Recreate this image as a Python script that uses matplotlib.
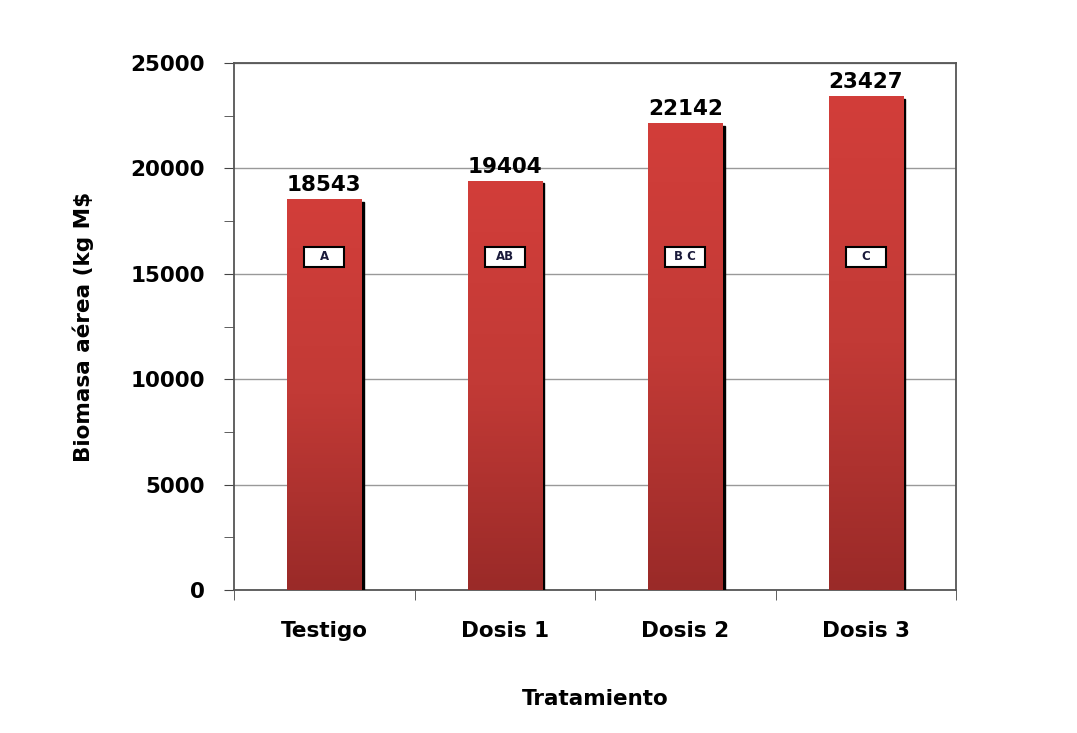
import numpy as np
import matplotlib
matplotlib.use("Agg")
import matplotlib.pyplot as plt
from matplotlib.colors import LinearSegmentedColormap
from matplotlib.patches import Rectangle

treatments = ["Testigo", "Dosis 1", "Dosis 2", "Dosis 3"]
biomass = [18543, 19404, 22142, 23427]
letters = ["A", "AB", "B C", "C"]
letter_y = 15800

plt.rcParams['font.family'] = ['DejaVu Sans']
plt.rcParams['font.weight'] = 'bold'

fig = plt.figure(figsize=(10.77, 7.33), dpi=100)
ax = fig.add_axes([234 / 1077, 1 - 590 / 733, (956 - 234) / 1077, (590 - 63) / 733])

x = np.arange(len(treatments))
width = 0.41
cmap = LinearSegmentedColormap.from_list("bar", ["#9a2a28", "#c23a36", "#d23e3a"])
grad = np.linspace(0, 1, 256).reshape(-1, 1)

bars = ax.bar(x, biomass, width, color="none", zorder=3)
for b in bars:
    x0, h = b.get_x(), b.get_height()
    # dark shadow on the right edge
    ax.add_patch(Rectangle((x0 + width, 0), 0.013, h - 120, color="black", zorder=2.9))
    img = ax.imshow(grad, cmap=cmap, aspect="auto", origin="lower",
                    extent=[x0, x0 + width, 0, h], zorder=3)
    img.set_clip_path(b)

box_w, box_h = 0.22, 950
for xi, v, lab in zip(x, biomass, letters):
    ax.text(xi, v + 200, str(v), ha="center", va="bottom", fontsize=15.5,
            fontweight="bold", zorder=5)
    ax.add_patch(Rectangle((xi - box_w / 2, letter_y - box_h / 2), box_w, box_h,
                           fc="white", ec="black", lw=1.5, zorder=4))
    ax.text(xi, letter_y, lab, ha="center", va="center", fontsize=8.5,
            fontweight="bold", color="#1a1a3a", zorder=5)

ax.set_xlim(-0.5, len(treatments) - 0.5)
ax.set_ylim(0, 25000)
ax.set_yticks(np.arange(0, 25001, 5000))
ax.set_yticks(np.arange(0, 25001, 2500), minor=True)
ax.set_xticks(x)
ax.set_xticklabels(treatments, fontsize=15.5, fontweight="bold")
ax.set_xticks(np.arange(-0.5, len(treatments), 1), minor=True)
ax.tick_params(axis="x", which="major", length=0, pad=22)
ax.tick_params(axis="x", which="minor", length=7, direction="out", color="#444444")
ax.tick_params(axis="y", which="both", direction="out", length=7, color="#444444",
               labelsize=15.5, pad=14)
ax.grid(axis="y", which="major", color="#999999", lw=1, zorder=0)
for s in ax.spines.values():
    s.set_color("#555555")
    s.set_linewidth(1.3)

ax.set_xlabel("Tratamiento", fontsize=15.5, fontweight="bold", labelpad=35)
ax.set_ylabel("Biomasa aérea (kg M$", fontsize=15.5, fontweight="bold", labelpad=26)

fig.savefig("out.png", dpi=100)
